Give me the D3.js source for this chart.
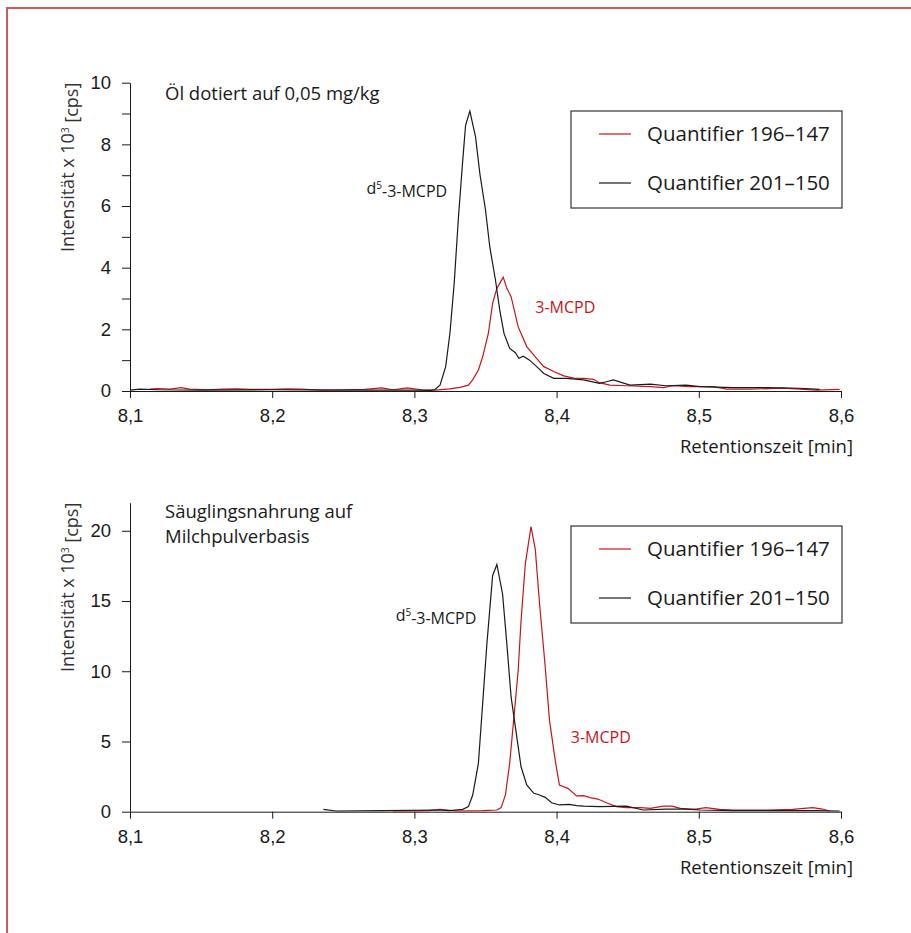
<!DOCTYPE html>
<html>
<head>
<meta charset="utf-8">
<script src="https://cdn.jsdelivr.net/npm/d3@7"></script>
<style>
  body { margin: 0; background: #fff; }
  svg { display: block; font-family: "Open Sans", "Noto Sans", sans-serif; }
</style>
</head>
<body>
<div id="wrapper"></div>
<script>
// retention time [min], intensity x 10^3 [cps]
const oilQuant196 = [
  [8.114,0.06],[8.12,0.08],[8.128,0.06],[8.136,0.11],[8.142,0.06],[8.155,0.04],[8.165,0.06],
  [8.175,0.07],[8.185,0.05],[8.2,0.05],[8.21,0.07],[8.22,0.06],[8.235,0.03],[8.25,0.04],
  [8.265,0.05],[8.277,0.1],[8.285,0.04],[8.295,0.1],[8.305,0.04],[8.315,0.03],[8.325,0.07],
  [8.332,0.12],[8.338,0.19],[8.341,0.36],[8.345,0.68],[8.348,1.11],[8.352,1.87],[8.355,2.84],
  [8.358,3.33],[8.3625,3.69],[8.365,3.33],[8.368,3.06],[8.373,2.08],[8.379,1.44],[8.385,1.11],
  [8.391,0.79],[8.398,0.63],[8.405,0.49],[8.412,0.42],[8.419,0.41],[8.426,0.38],[8.43,0.27],
  [8.4375,0.19],[8.449,0.17],[8.466,0.14],[8.475,0.11],[8.482,0.17],[8.494,0.14],[8.5,0.14],
  [8.51,0.14],[8.52,0.06],[8.536,0.06],[8.559,0.09],[8.583,0.03],[8.599,0.05]
];
const oilQuant201 = [
  [8.1,0.03],[8.107,0.06],[8.12,0.04],[8.15,0.03],[8.2,0.04],[8.25,0.03],[8.3,0.03],
  [8.312,0.02],[8.3145,0.05],[8.318,0.19],[8.322,0.79],[8.325,1.88],[8.328,3.5],[8.331,5.65],
  [8.334,7.49],[8.336,8.62],[8.339,9.08],[8.343,8.24],[8.346,7.06],[8.35,5.87],[8.353,4.68],
  [8.357,3.6],[8.36,2.63],[8.363,1.87],[8.367,1.38],[8.371,1.24],[8.3735,1.06],[8.3766,1.13],
  [8.381,1.0],[8.386,0.79],[8.391,0.57],[8.398,0.41],[8.407,0.41],[8.419,0.36],[8.43,0.25],
  [8.435,0.3],[8.44,0.36],[8.4516,0.19],[8.466,0.22],[8.477,0.17],[8.491,0.19],[8.501,0.14],
  [8.524,0.11],[8.548,0.11],[8.571,0.09],[8.585,0.05]
];
const milkQuant196 = [
  [8.285,0.05],[8.3,0.06],[8.31,0.08],[8.318,0.17],[8.3297,0.05],[8.348,0.07],[8.358,0.12],
  [8.361,0.29],[8.364,1.19],[8.367,3.44],[8.37,6.75],[8.373,10.07],[8.375,13.6],[8.378,17.65],
  [8.382,20.3],[8.385,18.7],[8.388,14.8],[8.392,10.3],[8.395,6.5],[8.399,3.67],[8.402,1.9],
  [8.408,1.66],[8.414,1.12],[8.419,1.14],[8.4235,1.0],[8.429,0.9],[8.435,0.64],[8.442,0.36],
  [8.449,0.29],[8.459,0.29],[8.466,0.24],[8.475,0.4],[8.481,0.4],[8.487,0.24],[8.494,0.19],
  [8.498,0.19],[8.505,0.29],[8.5145,0.17],[8.524,0.12],[8.548,0.12],[8.566,0.17],[8.58,0.29],
  [8.587,0.19],[8.592,0.05]
];
const milkQuant201 = [
  [8.236,0.17],[8.245,0.05],[8.278,0.07],[8.316,0.12],[8.325,0.07],[8.334,0.17],[8.338,0.36],
  [8.341,1.19],[8.345,3.44],[8.348,7.7],[8.351,11.97],[8.355,16.8],[8.358,17.6],[8.362,15.5],
  [8.365,11.97],[8.368,8.17],[8.372,5.33],[8.375,3.2],[8.379,1.9],[8.384,1.31],[8.388,1.19],
  [8.392,1.02],[8.3965,0.64],[8.402,0.48],[8.409,0.52],[8.414,0.43],[8.419,0.4],[8.43,0.36],
  [8.449,0.4],[8.461,0.12],[8.477,0.19],[8.491,0.19],[8.501,0.12],[8.524,0.07],[8.559,0.07],
  [8.583,0.07],[8.599,0.05]
];

const xTicks = [8.1, 8.2, 8.3, 8.4, 8.5, 8.6];
const oilYTicks = [0, 1, 2, 3, 4, 5, 6, 7, 8, 9, 10];
const oilYLabels = [0, 2, 4, 6, 8, 10];
const milkYTicks = [0, 5, 10, 15, 20];
const legendLabels = ["Quantifier 196\u2013147", "Quantifier 201\u2013150"];

const red = "#c4161c";
const ink = "#1a1a1a";

const width = 911, height = 933;
const svg = d3.select("#wrapper").append("svg")
    .attr("width", width)
    .attr("height", height);

// frame
svg.append("path")
    .attr("d", `M7,${height} L7,8 L${width},8`)
    .attr("fill", "none")
    .attr("stroke", "#cc5a5f")
    .attr("stroke-width", 2);

const de = d3.formatLocale({decimal: ",", thousands: ".", grouping: [3], currency: ["", " €"]});
const fmtX = de.format(".1f");

function drawPanel(p) {
    const x = d3.scaleLinear().domain([8.1, 8.6]).range([130, 841]);
    const y = d3.scaleLinear().domain([0, p.yMax]).range([p.bottom, p.top]);
    const g = svg.append("g");

    const xAxis = d3.axisBottom(x).tickValues(xTicks).tickFormat(fmtX)
        .tickSize(7).tickPadding(11).tickSizeOuter(0);
    g.append("g")
        .attr("transform", `translate(0,${p.bottom})`)
        .call(xAxis)
        .call(a => a.selectAll("text").style("font-size", "18.5px").attr("fill", ink))
        .call(a => a.selectAll("line,path").attr("stroke", ink));

    const yAxis = d3.axisLeft(y).tickValues(p.yTicks)
        .tickFormat(d => p.yLabels.includes(d) ? d : "")
        .tickSize(8).tickPadding(11).tickSizeOuter(0);
    g.append("g")
        .attr("transform", "translate(130,0)")
        .call(yAxis)
        .call(a => a.selectAll("text").style("font-size", "18.5px").attr("fill", ink))
        .call(a => a.selectAll("line,path").attr("stroke", ink));

    // y label
    const yl = g.append("text")
        .attr("transform", `translate(74,${p.top}) rotate(-90)`)
        .attr("text-anchor", "end")
        .style("font-size", "18px")
        .attr("fill", "#333");
    yl.append("tspan").text("Intensität x 10");
    yl.append("tspan").attr("dy", "-0.5em").style("font-size", "10px").text("3");
    yl.append("tspan").attr("dy", "0.5em").text(" [cps]");

    g.append("text")
        .attr("x", 853).attr("y", p.bottom + 62)
        .attr("text-anchor", "end")
        .style("font-size", "18.5px")
        .attr("fill", ink)
        .text("Retentionszeit [min]");

    // title lines
    p.title.forEach((t, i) => {
        g.append("text")
            .attr("x", 165).attr("y", p.titleY + i * 25)
            .style("font-size", "18.5px")
            .attr("fill", ink)
            .text(t);
    });

    const line = d3.line().x(d => x(d[0])).y(d => y(d[1]));
    g.append("path").datum(p.red)
        .attr("d", line).attr("fill", "none")
        .attr("stroke", red).attr("stroke-width", 1.2);
    g.append("path").datum(p.black)
        .attr("d", line).attr("fill", "none")
        .attr("stroke", ink).attr("stroke-width", 1.2);

    // peak labels
    const d5 = g.append("text")
        .attr("x", x(p.d5At[0])).attr("y", y(p.d5At[1]))
        .style("font-size", "16px").attr("fill", ink);
    d5.append("tspan").text("d");
    d5.append("tspan").attr("dy", "-0.5em").style("font-size", "10px").text("5");
    d5.append("tspan").attr("dy", "0.5em").text("-3-MCPD");

    g.append("text")
        .attr("x", x(p.mcpdAt[0])).attr("y", y(p.mcpdAt[1]))
        .style("font-size", "16px").attr("fill", red)
        .text("3-MCPD");

    // legend
    const lg = g.append("g").attr("transform", `translate(571,${p.legendTop})`);
    lg.append("rect")
        .attr("width", 271).attr("height", 97)
        .attr("fill", "#fff").attr("stroke", "#333").attr("stroke-width", 1.2);
    legendLabels.forEach((t, i) => {
        const ly = 23 + i * 49;
        lg.append("line")
            .attr("x1", 28).attr("x2", 60).attr("y1", ly).attr("y2", ly)
            .attr("stroke", i === 0 ? red : ink).attr("stroke-width", 1.2);
        lg.append("text")
            .attr("x", 76).attr("y", ly + 7)
            .style("font-size", "20.5px").attr("fill", ink)
            .text(t);
    });
}

drawPanel({
    top: 82.7, bottom: 391, yMax: 10,
    yTicks: oilYTicks, yLabels: oilYLabels,
    red: oilQuant196, black: oilQuant201,
    title: ["Öl dotiert auf 0,05 mg/kg"], titleY: 100,
    d5At: [8.2663, 6.39], mcpdAt: [8.385, 2.52],
    legendTop: 111
});

drawPanel({
    top: 502.7, bottom: 811.7, yMax: 22,
    yTicks: milkYTicks, yLabels: milkYTicks,
    red: milkQuant196, black: milkQuant201,
    title: ["Säuglingsnahrung auf", "Milchpulverbasis"], titleY: 518,
    d5At: [8.2868, 13.57], mcpdAt: [8.41, 4.9],
    legendTop: 526
});
</script>
</body>
</html>
